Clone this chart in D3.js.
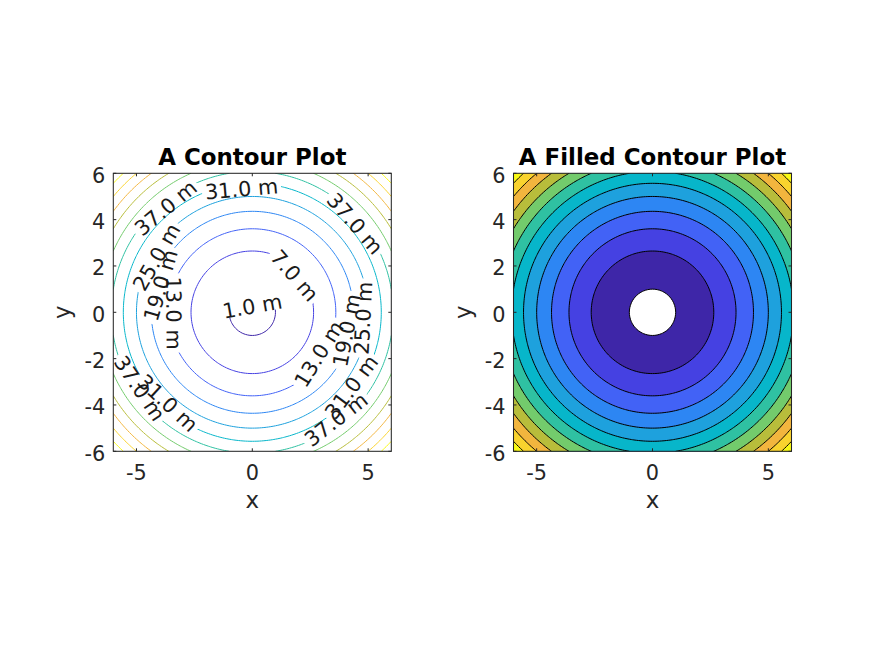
<!DOCTYPE html>
<html><head><meta charset="utf-8">
<script src="https://cdn.jsdelivr.net/npm/d3@7"></script>
<style>body{margin:0;background:#fff} text{font-family:"DejaVu Sans",sans-serif}</style>
</head><body><svg id="c" width="874" height="655" xmlns="http://www.w3.org/2000/svg"></svg>
<script>
// ---- data ----
const gridX = d3.range(-6, 6.0001, 0.1);
const gridY = d3.range(-6, 6.0001, 0.1);
const surface = (x, y) => x * x + y * y;           // z = x^2 + y^2 (metres)
const levels = [1, 7, 13, 19, 25, 31, 37, 43, 49, 55, 61, 67];
const levelColors = ["#3e26a8", "#4541e2", "#4262f6", "#2d86f3", "#1ea1dd", "#07b6ca",
                     "#2fc1a2", "#73cb6c", "#b8bd3b", "#f2b53e", "#f9d32e", "#f9fa14"];
const xTicks = [-5, 0, 5];
const yTicks = [-6, -4, -2, 0, 2, 4, 6];
const titles = ["A Contour Plot", "A Filled Contour Plot"];
// contour labels: level and position angle (deg) on the contour
const labelLevels = [7, 13, 13, 19, 19, 25, 25, 31, 31, 31, 37, 37, 37, 37];
const labelAngles = [41, 180.5, -32, 163.6, -10.8, 150, -3, 95, -37, -133, 129.7, 40.8, -52, -146];
const labelInset = 0.22;   // labels sit slightly inside their line
// the 1.0 m label sits across the small circle (chord)
const chordLabel = {level: 1, x: 0, y: 0.27, rot: -10};

// ---- layout ----
const W = 874, H = 655;
const axesBoxes = [{x0: 113.3, x1: 391.3}, {x0: 513.5, x1: 791.5}];
const axTop = 173.3, axBottom = 451.3;
const tickFont = 20.83, titleFont = 22.92;
const axisColor = "#262626";

const svg = d3.select("#c");
const defs = svg.append("defs");

const n = gridX.length, m = gridY.length;
const step = gridX[1] - gridX[0];
const values = new Array(n * m);
for (let j = 0; j < m; j++) for (let i = 0; i < n; i++) values[j * n + i] = surface(gridX[i], gridY[j]);
const contourSets = d3.contours().size([n, m]).thresholds(levels)(values);

function makeAxes(k) {
  const box = axesBoxes[k];
  const xs = d3.scaleLinear().domain([-6, 6]).range([box.x0, box.x1]);
  const ys = d3.scaleLinear().domain([-6, 6]).range([axBottom, axTop]);
  const proj = d3.geoTransform({
    point(gx, gy) {
      this.stream.point(xs(gridX[0] + (gx - 0.5) * step), ys(gridY[0] + (gy - 0.5) * step));
    }
  });
  const path = d3.geoPath(proj);
  const clipId = "clip" + k;
  defs.append("clipPath").attr("id", clipId).append("rect")
    .attr("x", box.x0).attr("y", axTop).attr("width", box.x1 - box.x0).attr("height", axBottom - axTop);
  const g = svg.append("g");
  const plot = g.append("g").attr("clip-path", `url(#${clipId})`);
  return {xs, ys, path, g, plot, box};
}

function decorate(ax, k) {
  const {xs, ys, g, box} = ax;
  g.append("rect").attr("x", box.x0).attr("y", axTop).attr("width", box.x1 - box.x0).attr("height", axBottom - axTop)
    .attr("fill", "none").attr("stroke", axisColor).attr("stroke-width", 1.04);
  const tl = 3;
  xTicks.forEach(t => {
    g.append("line").attr("x1", xs(t)).attr("x2", xs(t)).attr("y1", axBottom).attr("y2", axBottom - tl).attr("stroke", axisColor);
    g.append("line").attr("x1", xs(t)).attr("x2", xs(t)).attr("y1", axTop).attr("y2", axTop + tl).attr("stroke", axisColor);
    g.append("text").attr("x", xs(t)).attr("y", axBottom + 28.7).attr("text-anchor", "middle")
      .attr("font-size", tickFont).attr("fill", axisColor).text(t < 0 ? "-" + Math.abs(t) : String(t));
  });
  yTicks.forEach(t => {
    g.append("line").attr("x1", box.x0).attr("x2", box.x0 + tl).attr("y1", ys(t)).attr("y2", ys(t)).attr("stroke", axisColor);
    g.append("line").attr("x1", box.x1).attr("x2", box.x1 - tl).attr("y1", ys(t)).attr("y2", ys(t)).attr("stroke", axisColor);
    g.append("text").attr("x", box.x0 - 8).attr("y", ys(t) + 9.3).attr("text-anchor", "end")
      .attr("font-size", tickFont).attr("fill", axisColor).text(t < 0 ? "-" + Math.abs(t) : String(t));
  });
  const cx = (box.x0 + box.x1) / 2;
  g.append("text").attr("x", cx).attr("y", 165).attr("text-anchor", "middle")
    .attr("font-size", titleFont).attr("font-weight", "bold").attr("fill", "#000").text(titles[k]);
  g.append("text").attr("x", cx).attr("y", 508).attr("text-anchor", "middle")
    .attr("font-size", titleFont).attr("fill", axisColor).text("x");
  g.append("text").attr("transform", `translate(${box.x0 - 43},${(axTop + axBottom) / 2}) rotate(-90)`)
    .attr("text-anchor", "middle").attr("font-size", titleFont).attr("fill", axisColor).text("y");
}

// ---------- left: contour lines with labels ----------
const A = makeAxes(0);
const labels = labelLevels.map((lv, i) => {
  const a = labelAngles[i] * Math.PI / 180, r = Math.sqrt(lv) - labelInset;
  let rot = -(labelAngles[i] + 90);
  while (rot > 90) rot -= 180;
  while (rot <= -90) rot += 180;
  return {level: lv, px: A.xs(r * Math.cos(a)), py: A.ys(r * Math.sin(a)), rot, chord: false};
});
labels.push({level: chordLabel.level, px: A.xs(chordLabel.x), py: A.ys(chordLabel.y), rot: chordLabel.rot, chord: true});

const meas = svg.append("text").attr("font-size", tickFont).text("00.0 m");
const labelW = {};
levels.forEach(lv => { meas.text(lv.toFixed(1) + " m"); labelW[lv] = meas.node().getComputedTextLength(); });
meas.remove();

contourSets.forEach((c, k) => {
  const lv = levels[k];
  const mine = labels.filter(l => l.level === lv);
  let maskAttr = null;
  if (mine.length) {
    const id = "mask" + k;
    const mk = defs.append("mask").attr("id", id).attr("maskUnits", "userSpaceOnUse")
      .attr("x", 0).attr("y", 0).attr("width", W).attr("height", H);
    mk.append("rect").attr("x", 0).attr("y", 0).attr("width", W).attr("height", H).attr("fill", "#fff");
    mine.forEach(l => {
      const w = labelW[lv] + 6;
      const y0 = l.chord ? -40 : -13, y1 = l.chord ? 7.5 : 13;
      mk.append("rect").attr("x", -w / 2).attr("y", y0).attr("width", w).attr("height", y1 - y0)
        .attr("fill", "#000").attr("transform", `translate(${l.px},${l.py}) rotate(${l.rot})`);
    });
    maskAttr = `url(#${id})`;
  }
  const p = A.plot.append("path").attr("d", A.path(c)).attr("fill", "none")
    .attr("stroke", levelColors[k]).attr("stroke-width", 1);
  if (maskAttr) p.attr("mask", maskAttr);
});
labels.forEach(l => {
  A.g.append("text").attr("transform", `translate(${l.px},${l.py}) rotate(${l.rot})`)
    .attr("text-anchor", "middle").attr("dy", "0.36em").attr("font-size", tickFont)
    .attr("fill", "#1a1a1a").text(l.level.toFixed(1) + " m");
});
decorate(A, 0);

// ---------- right: filled contours ----------
const B = makeAxes(1);
contourSets.forEach((c, k) => {
  B.plot.append("path").attr("d", B.path(c)).attr("fill", levelColors[k])
    .attr("stroke", "#000").attr("stroke-width", 1);
});
decorate(B, 1);
</script></body></html>
